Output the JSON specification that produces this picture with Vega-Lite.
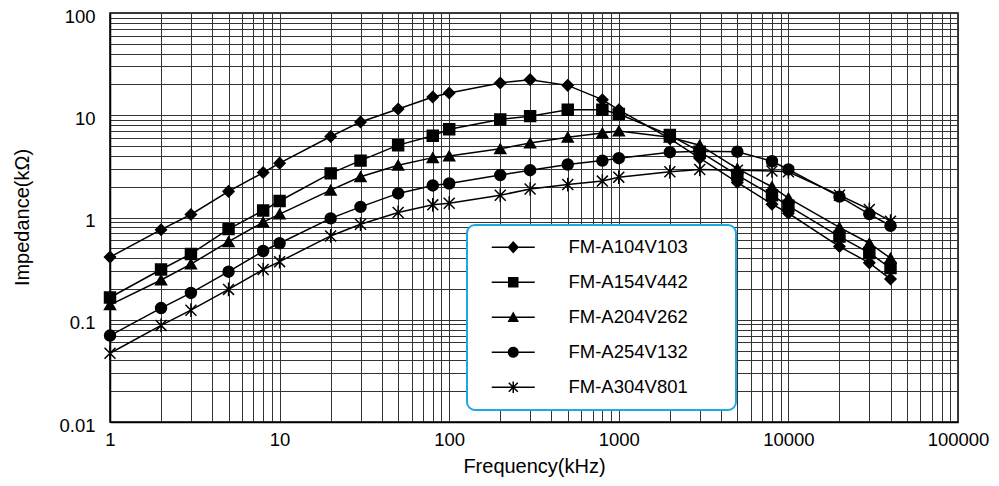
{
  "$schema": "https://vega.github.io/schema/vega-lite/v6.json",
  "width": 848,
  "height": 409,
  "autosize": {"type": "none"},
  "padding": {"left": 110, "top": 13, "right": 41, "bottom": 64},
  "background": "white",
  "config": {
    "font": "Liberation Sans",
    "view": {"stroke": "black", "strokeWidth": 1.5},
    "axis": {
      "labelFont": "Liberation Sans",
      "titleFont": "Liberation Sans",
      "labelFontSize": 18.5,
      "titleFontSize": 20,
      "labelColor": "black",
      "titleColor": "black",
      "titleFontWeight": "normal",
      "ticks": false,
      "domainColor": "black",
      "domainWidth": 1.5,
      "gridColor": "#333",
      "gridWidth": 1,
      "gridOpacity": 1,
      "labelOverlap": false,
      "labelFlush": false
    },
    "legend": {
      "labelFont": "Liberation Sans",
      "labelFontSize": 18.5,
      "labelColor": "black",
      "strokeWidth": 2
    }
  },
  "data": {
    "values": [
      {"f": 1, "z": 0.41, "s": "FM-A104V103"},
      {"f": 2, "z": 0.76, "s": "FM-A104V103"},
      {"f": 3, "z": 1.07, "s": "FM-A104V103"},
      {"f": 5, "z": 1.8, "s": "FM-A104V103"},
      {"f": 8, "z": 2.75, "s": "FM-A104V103"},
      {"f": 10, "z": 3.4, "s": "FM-A104V103"},
      {"f": 20, "z": 6.2, "s": "FM-A104V103"},
      {"f": 30, "z": 8.6, "s": "FM-A104V103"},
      {"f": 50, "z": 11.5, "s": "FM-A104V103"},
      {"f": 80, "z": 15.1, "s": "FM-A104V103"},
      {"f": 100, "z": 16.5, "s": "FM-A104V103"},
      {"f": 200, "z": 20.7, "s": "FM-A104V103"},
      {"f": 300, "z": 22.3, "s": "FM-A104V103"},
      {"f": 500, "z": 19.6, "s": "FM-A104V103"},
      {"f": 800, "z": 14.2, "s": "FM-A104V103"},
      {"f": 1000, "z": 11.3, "s": "FM-A104V103"},
      {"f": 2000, "z": 5.9, "s": "FM-A104V103"},
      {"f": 3000, "z": 3.8, "s": "FM-A104V103"},
      {"f": 5000, "z": 2.2, "s": "FM-A104V103"},
      {"f": 8000, "z": 1.35, "s": "FM-A104V103"},
      {"f": 10000, "z": 1.1, "s": "FM-A104V103"},
      {"f": 20000, "z": 0.52, "s": "FM-A104V103"},
      {"f": 30000, "z": 0.36, "s": "FM-A104V103"},
      {"f": 40000, "z": 0.25, "s": "FM-A104V103"},
      {"f": 1, "z": 0.165, "s": "FM-A154V442"},
      {"f": 2, "z": 0.31, "s": "FM-A154V442"},
      {"f": 3, "z": 0.44, "s": "FM-A154V442"},
      {"f": 5, "z": 0.77, "s": "FM-A154V442"},
      {"f": 8, "z": 1.17, "s": "FM-A154V442"},
      {"f": 10, "z": 1.45, "s": "FM-A154V442"},
      {"f": 20, "z": 2.7, "s": "FM-A154V442"},
      {"f": 30, "z": 3.6, "s": "FM-A154V442"},
      {"f": 50, "z": 5.1, "s": "FM-A154V442"},
      {"f": 80, "z": 6.3, "s": "FM-A154V442"},
      {"f": 100, "z": 7.3, "s": "FM-A154V442"},
      {"f": 200, "z": 9.1, "s": "FM-A154V442"},
      {"f": 300, "z": 9.8, "s": "FM-A154V442"},
      {"f": 500, "z": 11.3, "s": "FM-A154V442"},
      {"f": 800, "z": 11.3, "s": "FM-A154V442"},
      {"f": 1000, "z": 10.3, "s": "FM-A154V442"},
      {"f": 2000, "z": 6.4, "s": "FM-A154V442"},
      {"f": 3000, "z": 4.4, "s": "FM-A154V442"},
      {"f": 5000, "z": 2.6, "s": "FM-A154V442"},
      {"f": 8000, "z": 1.65, "s": "FM-A154V442"},
      {"f": 10000, "z": 1.3, "s": "FM-A154V442"},
      {"f": 20000, "z": 0.65, "s": "FM-A154V442"},
      {"f": 30000, "z": 0.45, "s": "FM-A154V442"},
      {"f": 40000, "z": 0.32, "s": "FM-A154V442"},
      {"f": 1, "z": 0.14, "s": "FM-A204V262"},
      {"f": 2, "z": 0.245, "s": "FM-A204V262"},
      {"f": 3, "z": 0.35, "s": "FM-A204V262"},
      {"f": 5, "z": 0.58, "s": "FM-A204V262"},
      {"f": 8, "z": 0.9, "s": "FM-A204V262"},
      {"f": 10, "z": 1.08, "s": "FM-A204V262"},
      {"f": 20, "z": 1.85, "s": "FM-A204V262"},
      {"f": 30, "z": 2.5, "s": "FM-A204V262"},
      {"f": 50, "z": 3.25, "s": "FM-A204V262"},
      {"f": 80, "z": 3.85, "s": "FM-A204V262"},
      {"f": 100, "z": 4.0, "s": "FM-A204V262"},
      {"f": 200, "z": 4.7, "s": "FM-A204V262"},
      {"f": 300, "z": 5.35, "s": "FM-A204V262"},
      {"f": 500, "z": 6.1, "s": "FM-A204V262"},
      {"f": 800, "z": 6.7, "s": "FM-A204V262"},
      {"f": 1000, "z": 7.0, "s": "FM-A204V262"},
      {"f": 2000, "z": 6.1, "s": "FM-A204V262"},
      {"f": 3000, "z": 5.1, "s": "FM-A204V262"},
      {"f": 5000, "z": 3.0, "s": "FM-A204V262"},
      {"f": 8000, "z": 2.0, "s": "FM-A204V262"},
      {"f": 10000, "z": 1.55, "s": "FM-A204V262"},
      {"f": 20000, "z": 0.8, "s": "FM-A204V262"},
      {"f": 30000, "z": 0.56, "s": "FM-A204V262"},
      {"f": 40000, "z": 0.4, "s": "FM-A204V262"},
      {"f": 1, "z": 0.07, "s": "FM-A254V132"},
      {"f": 2, "z": 0.13, "s": "FM-A254V132"},
      {"f": 3, "z": 0.183, "s": "FM-A254V132"},
      {"f": 5, "z": 0.295, "s": "FM-A254V132"},
      {"f": 8, "z": 0.47, "s": "FM-A254V132"},
      {"f": 10, "z": 0.56, "s": "FM-A254V132"},
      {"f": 20, "z": 0.98, "s": "FM-A254V132"},
      {"f": 30, "z": 1.27, "s": "FM-A254V132"},
      {"f": 50, "z": 1.72, "s": "FM-A254V132"},
      {"f": 80, "z": 2.06, "s": "FM-A254V132"},
      {"f": 100, "z": 2.15, "s": "FM-A254V132"},
      {"f": 200, "z": 2.6, "s": "FM-A254V132"},
      {"f": 300, "z": 2.9, "s": "FM-A254V132"},
      {"f": 500, "z": 3.3, "s": "FM-A254V132"},
      {"f": 800, "z": 3.6, "s": "FM-A254V132"},
      {"f": 1000, "z": 3.8, "s": "FM-A254V132"},
      {"f": 2000, "z": 4.35, "s": "FM-A254V132"},
      {"f": 3000, "z": 4.45, "s": "FM-A254V132"},
      {"f": 5000, "z": 4.4, "s": "FM-A254V132"},
      {"f": 8000, "z": 3.55, "s": "FM-A254V132"},
      {"f": 10000, "z": 2.95, "s": "FM-A254V132"},
      {"f": 20000, "z": 1.6, "s": "FM-A254V132"},
      {"f": 30000, "z": 1.08, "s": "FM-A254V132"},
      {"f": 40000, "z": 0.83, "s": "FM-A254V132"},
      {"f": 1, "z": 0.047, "s": "FM-A304V801"},
      {"f": 2, "z": 0.088, "s": "FM-A304V801"},
      {"f": 3, "z": 0.124, "s": "FM-A304V801"},
      {"f": 5, "z": 0.198, "s": "FM-A304V801"},
      {"f": 8, "z": 0.31, "s": "FM-A304V801"},
      {"f": 10, "z": 0.37, "s": "FM-A304V801"},
      {"f": 20, "z": 0.66, "s": "FM-A304V801"},
      {"f": 30, "z": 0.86, "s": "FM-A304V801"},
      {"f": 50, "z": 1.12, "s": "FM-A304V801"},
      {"f": 80, "z": 1.33, "s": "FM-A304V801"},
      {"f": 100, "z": 1.38, "s": "FM-A304V801"},
      {"f": 200, "z": 1.65, "s": "FM-A304V801"},
      {"f": 300, "z": 1.9, "s": "FM-A304V801"},
      {"f": 500, "z": 2.1, "s": "FM-A304V801"},
      {"f": 800, "z": 2.27, "s": "FM-A304V801"},
      {"f": 1000, "z": 2.48, "s": "FM-A304V801"},
      {"f": 2000, "z": 2.8, "s": "FM-A304V801"},
      {"f": 3000, "z": 2.95, "s": "FM-A304V801"},
      {"f": 5000, "z": 2.9, "s": "FM-A304V801"},
      {"f": 8000, "z": 2.85, "s": "FM-A304V801"},
      {"f": 10000, "z": 2.8, "s": "FM-A304V801"},
      {"f": 20000, "z": 1.65, "s": "FM-A304V801"},
      {"f": 30000, "z": 1.2, "s": "FM-A304V801"},
      {"f": 40000, "z": 0.92, "s": "FM-A304V801"}
    ]
  },
  "encoding": {
    "x": {
      "field": "f",
      "type": "quantitative",
      "scale": {"type": "log", "domain": [1, 100000], "nice": false},
      "axis": {
        "title": "Frequency(kHz)",
        "values": [1,2,3,4,5,6,7,8,9,10,20,30,40,50,60,70,80,90,100,200,300,400,500,600,700,800,900,1000,2000,3000,4000,5000,6000,7000,8000,9000,10000,20000,30000,40000,50000,60000,70000,80000,90000,100000],
        "format": "~g",
        "labelExpr": "indexof(['1','10','100','1000','10000','100000'], datum.label) >= 0 ? datum.label : ''",
        "labelPadding": 8,
        "titleY": 44,
        "titleBaseline": "middle"
      }
    },
    "y": {
      "field": "z",
      "type": "quantitative",
      "scale": {"type": "log", "domain": [0.01, 100], "nice": false},
      "axis": {
        "title": "Impedance(kΩ)",
        "values": [0.01,0.02,0.03,0.04,0.05,0.06,0.07,0.08,0.09,0.1,0.2,0.3,0.4,0.5,0.6,0.7,0.8,0.9,1,2,3,4,5,6,7,8,9,10,20,30,40,50,60,70,80,90,100],
        "format": "~g",
        "labelExpr": "indexof(['0.01','0.1','1','10','100'], datum.label) >= 0 ? datum.label : ''",
        "labelPadding": 15,
        "labelOffset": 3,
        "titleX": -88,
        "titleY": 204,
        "titleAngle": -90,
        "titleAlign": "center",
        "titleBaseline": "middle"
      }
    }
  },
  "layer": [
    {
      "mark": {"type": "line", "color": "black", "strokeWidth": 1.5},
      "encoding": {"detail": {"field": "s", "type": "nominal"}}
    },
    {
      "mark": {"type": "point", "filled": true, "color": "black", "stroke": "black", "strokeWidth": 1.5, "opacity": 1, "size": 120},
      "encoding": {
        "shape": {
          "field": "s",
          "type": "nominal",
          "scale": {
            "domain": ["FM-A104V103", "FM-A154V442", "FM-A204V262", "FM-A254V132", "FM-A304V801"],
            "range": ["diamond", "square", "triangle-up", "circle", "M-1,-1L1,1M-1,1L1,-1M0,-1.25L0,1.25"]
          },
          "legend": null
        }
      }
    },
    {
      "transform": [{"filter": "false"}],
      "mark": {"type": "point", "filled": true, "color": "black", "opacity": 1, "size": 100},
      "encoding": {
        "shape": {
          "field": "s",
          "type": "nominal",
          "scale": {
            "domain": ["FM-A104V103", "FM-A154V442", "FM-A204V262", "FM-A254V132", "FM-A304V801"],
            "range": [
              "M-4.3,-0.14H4.3V0.14H-4.3ZM0,-1.25L1.15,0L0,1.25L-1.15,0Z",
              "M-4.3,-0.14H4.3V0.14H-4.3ZM-1.05,-1.05H1.05V1.05H-1.05Z",
              "M-4.3,-0.14H4.3V0.14H-4.3ZM0,-1.15L1.15,0.95H-1.15Z",
              "M-4.3,-0.14H4.3V0.14H-4.3ZM1.1,0A1.1,1.1 0 1 1 -1.1,0A1.1,1.1 0 1 1 1.1,0Z",
              "M-4.3,-0.14H4.3V0.14H-4.3ZM-0.15,-1.15H0.15V1.15H-0.15ZM-0.794,-1.006L1.006,0.794L0.794,1.006L-1.006,-0.794ZM-1.006,0.794L0.794,-1.006L1.006,-0.794L-0.794,1.006Z"
            ]
          },
          "legend": {
            "title": "\u00a0",
            "titleOrient": "right",
            "titlePadding": 35,
            "orient": "none",
            "legendX": 357,
            "legendY": 212,
            "strokeColor": "#1ba9e1",
            "cornerRadius": 8,
            "fillColor": "white",
            "padding": 13,
            "symbolSize": 100,
            "symbolOffset": 24,
            "symbolFillColor": "black",
            "labelOffset": 46,
            "rowPadding": 16
          }
        }
      }
    }
  ],
  "resolve": {"scale": {"shape": "independent"}}
}
